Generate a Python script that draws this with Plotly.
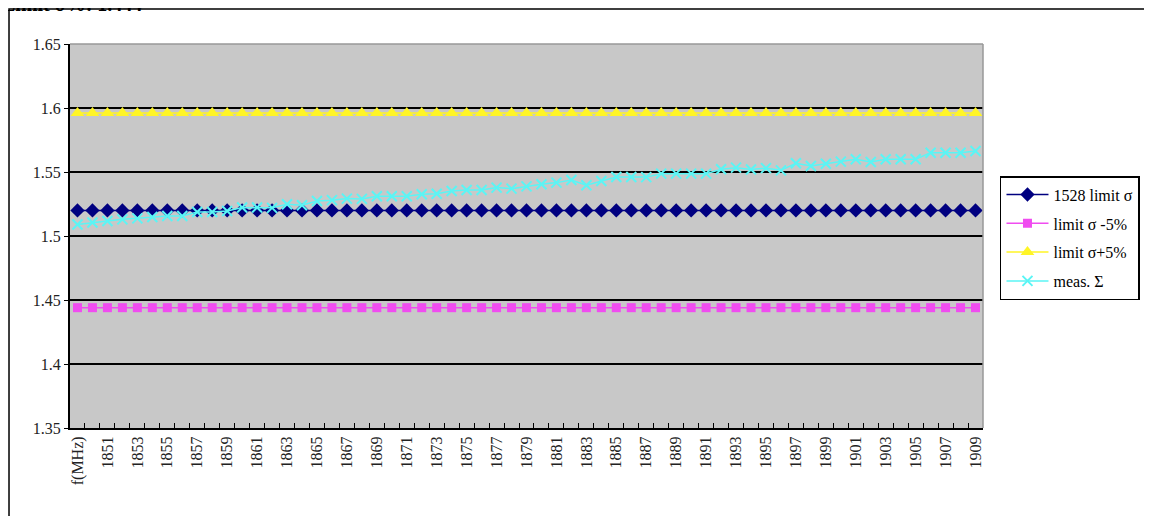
import plotly.graph_objects as go

categories = ["f(MHz)"] + [str(v) for v in range(1850, 1910)]

limit_sigma = [1.52] * 61
limit_minus5 = [1.444] * 61
limit_plus5 = [1.596] * 61
meas_sigma = [
    1.509, 1.5105, 1.5117, 1.513, 1.5138, 1.5149, 1.5156, 1.5156, 1.5188, 1.5188,
    1.5195, 1.5222, 1.5222, 1.522, 1.5248, 1.524, 1.5274, 1.528, 1.5292, 1.529,
    1.531, 1.531, 1.531, 1.5326, 1.533, 1.5352, 1.536, 1.536, 1.5378, 1.537,
    1.5388, 1.5404, 1.5417, 1.5438, 1.5396, 1.543, 1.5461, 1.5461, 1.546, 1.5487,
    1.5487, 1.5487, 1.5487, 1.5521, 1.5534, 1.552, 1.553, 1.5513, 1.5568, 1.5547,
    1.5565, 1.5581, 1.5599, 1.5578, 1.56, 1.56, 1.56, 1.5651, 1.5651, 1.565,
    1.5664,
]

y_ticks = [1.35, 1.4, 1.45, 1.5, 1.55, 1.6, 1.65]
y_ticktext = ["1.35", "1.4", "1.45", "1.5", "1.55", "1.6", "1.65"]
x_ticktext = [c if i % 2 == 0 else "" for i, c in enumerate(categories)]

font_family = "Liberation Serif"

fig = go.Figure()
fig.add_trace(go.Scatter(
    x=categories, y=limit_sigma, name="1528 limit \u03c3", mode="lines+markers",
    legendgroup="a",
    line=dict(color="#000080", width=1.5),
    marker=dict(symbol="diamond", size=11, color="#000080")))
fig.add_trace(go.Scatter(
    x=categories, y=limit_minus5, name="limit \u03c3 -5%", mode="lines+markers",
    legendgroup="b",
    line=dict(color="#F04CF0", width=1.5),
    marker=dict(symbol="square", size=9, color="#F04CF0")))
fig.add_trace(go.Scatter(
    x=categories, y=limit_plus5, name="limit \u03c3+5%", mode="lines+markers",
    legendgroup="c",
    line=dict(color="#FFF526", width=1.5),
    marker=dict(symbol="triangle-up", size=12, color="#FFF526")))
fig.add_trace(go.Scatter(
    x=categories, y=meas_sigma, name="meas. \u03a3", mode="lines+markers",
    legendgroup="d",
    line=dict(color="#5AF5F5", width=1.5),
    marker=dict(symbol="x-thin", size=10, line=dict(color="#5AF5F5", width=2), color="#5AF5F5")))

fig.update_layout(
    width=1144, height=508,
    margin=dict(l=62, r=169, t=36, b=88, autoexpand=False),
    paper_bgcolor="white",
    plot_bgcolor="#C8C8C8",
    font=dict(family=font_family, size=16, color="#222"),
    legend=dict(
        x=1.0186, y=0.656, xanchor="left", yanchor="top",
        bordercolor="black", borderwidth=1.5, bgcolor="white",
        font=dict(family=font_family, size=16, color="black"),
        tracegroupgap=5, itemwidth=42,
    ),
    xaxis=dict(
        type="category", range=[-0.5, 60.5],
        tickmode="array", tickvals=categories, ticktext=x_ticktext,
        tickangle=-90, tickson="boundaries", ticks="inside", ticklen=5,
        tickcolor="black", showgrid=False,
        showline=True, linecolor="black", linewidth=2, mirror=False,
        tickfont=dict(family=font_family, size=16, color="#222"),
        zeroline=False, automargin=False,
    ),
    yaxis=dict(
        range=[1.35, 1.65], tickmode="array", tickvals=y_ticks, ticktext=y_ticktext,
        showgrid=True, gridcolor="black", gridwidth=1.5,
        ticks="outside", ticklen=4, tickcolor="black",
        showline=True, linecolor="black", linewidth=2,
        tickfont=dict(family=font_family, size=16, color="#222"),
        zeroline=False, automargin=False,
    ),
    showlegend=True,
)

# gray border on top/right of plot area
fig.add_shape(type="line", xref="paper", yref="paper", x0=0, x1=1, y0=1, y1=1,
              line=dict(color="#999999", width=1.5))
fig.add_shape(type="line", xref="paper", yref="paper", x0=1, x1=1, y0=0, y1=1,
              line=dict(color="#999999", width=1.5))
# outer frame
fig.add_shape(type="rect", xref="paper", yref="paper", x0=-0.0668, x1=1.3, y0=-0.5, y1=1.0911,
              line=dict(color="black", width=1.5), layer="below")

fig.add_annotation(text="<b>Limit \u03c3%: 1.444</b>", xref="paper", yref="paper",
                   x=-0.0767, y=1.104, xanchor="left", yanchor="middle", showarrow=False,
                   font=dict(family=font_family, size=20, color="black"))

fig.write_html("out.html")
